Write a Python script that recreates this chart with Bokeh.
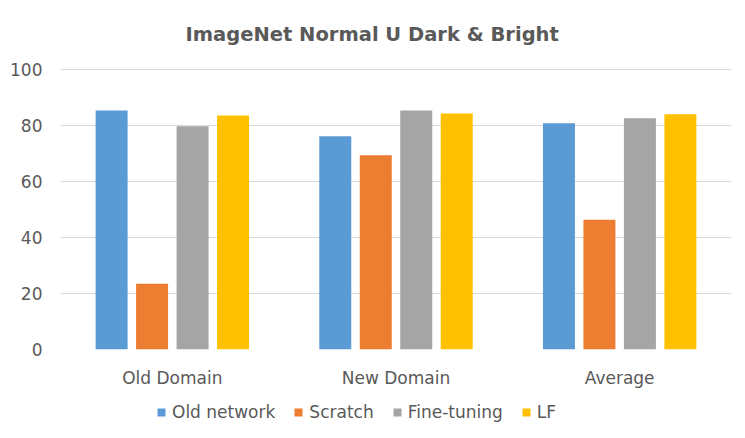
from bokeh.plotting import figure
from bokeh.models import FactorRange, Range1d, Legend, LegendItem, Title, ColumnDataSource
from bokeh.layouts import column
from bokeh.transform import dodge
from bokeh.embed import file_html
from bokeh.resources import INLINE

categories = ["Old Domain", "New Domain", "Average"]
series_names = ["Old network", "Scratch", "Fine-tuning", "LF"]
old_network = [85.4, 76.2, 80.8]
scratch = [23.5, 69.4, 46.3]
fine_tuning = [79.7, 85.4, 82.6]
lf = [83.6, 84.3, 84.0]
colors = ["#5B9BD5", "#ED7D31", "#A5A5A5", "#FFC000"]
y_ticks = [0, 20, 40, 60, 80, 100]

FONT = "DejaVu Sans"
TXT = "#595959"

source = ColumnDataSource(dict(cat=categories, s0=old_network, s1=scratch,
                               s2=fine_tuning, s3=lf))

p = figure(x_range=FactorRange(*categories), y_range=Range1d(0, 101.07),
           width=731, height=396, output_backend="svg", toolbar_location=None,
           min_border_left=60, min_border_right=0, min_border_top=65,
           min_border_bottom=47)

p.title = Title(text="ImageNet Normal U Dark & Bright", align="left",
                text_font=FONT, text_font_size="19.5px", text_font_style="bold",
                text_color=TXT, standoff=41, offset=125)

step = 0.181
bw = 0.143
keys = ["s0", "s1", "s2", "s3"]
for i, (key, c) in enumerate(zip(keys, colors)):
    p.vbar(x=dodge("cat", (i - 1.5) * step, range=p.x_range), top=key,
           width=bw, source=source, color=c, line_color=None)

p.outline_line_color = None
p.xgrid.grid_line_color = None
p.ygrid.grid_line_color = "#D9D9D9"
p.ygrid.grid_line_width = 1
p.yaxis.ticker = y_ticks
for ax in (p.xaxis, p.yaxis):
    ax.axis_line_color = None
    ax.major_tick_line_color = None
    ax.minor_tick_line_color = None
    ax.major_tick_out = 0
    ax.minor_tick_out = 0
    ax.major_label_text_font = FONT
    ax.major_label_text_font_size = "17px"
    ax.major_label_text_color = TXT
p.yaxis.major_label_standoff = 18
p.xaxis.major_label_standoff = 18

# legend strip (swatches only: zero-height placeholder bars outside the visible range)
lp = figure(width=731, height=26, output_backend="svg", toolbar_location=None,
            x_range=Range1d(10, 11), y_range=Range1d(10, 11),
            x_axis_location=None, y_axis_location=None,
            min_border_left=0, min_border_right=0, min_border_top=0, min_border_bottom=0)
lp.outline_line_color = None
lp.xgrid.grid_line_color = None
lp.ygrid.grid_line_color = None
swatch = ColumnDataSource(dict(x=[0], top=[0]))
legend_renderers = [lp.vbar(x="x", top="top", width=0, source=swatch, color=c, line_color=None)
                    for c in colors]
legend = Legend(items=[LegendItem(label=n, renderers=[r]) for n, r in zip(series_names, legend_renderers)],
                orientation="horizontal", location=(96, 0),
                label_text_font=FONT, label_text_font_size="17px", label_text_color=TXT,
                glyph_width=10, glyph_height=10, label_standoff=6, spacing=18,
                border_line_color=None, background_fill_alpha=0, padding=0, margin=0)
lp.add_layout(legend)

open("out.html", "w").write(file_html(column(p, lp), INLINE))
